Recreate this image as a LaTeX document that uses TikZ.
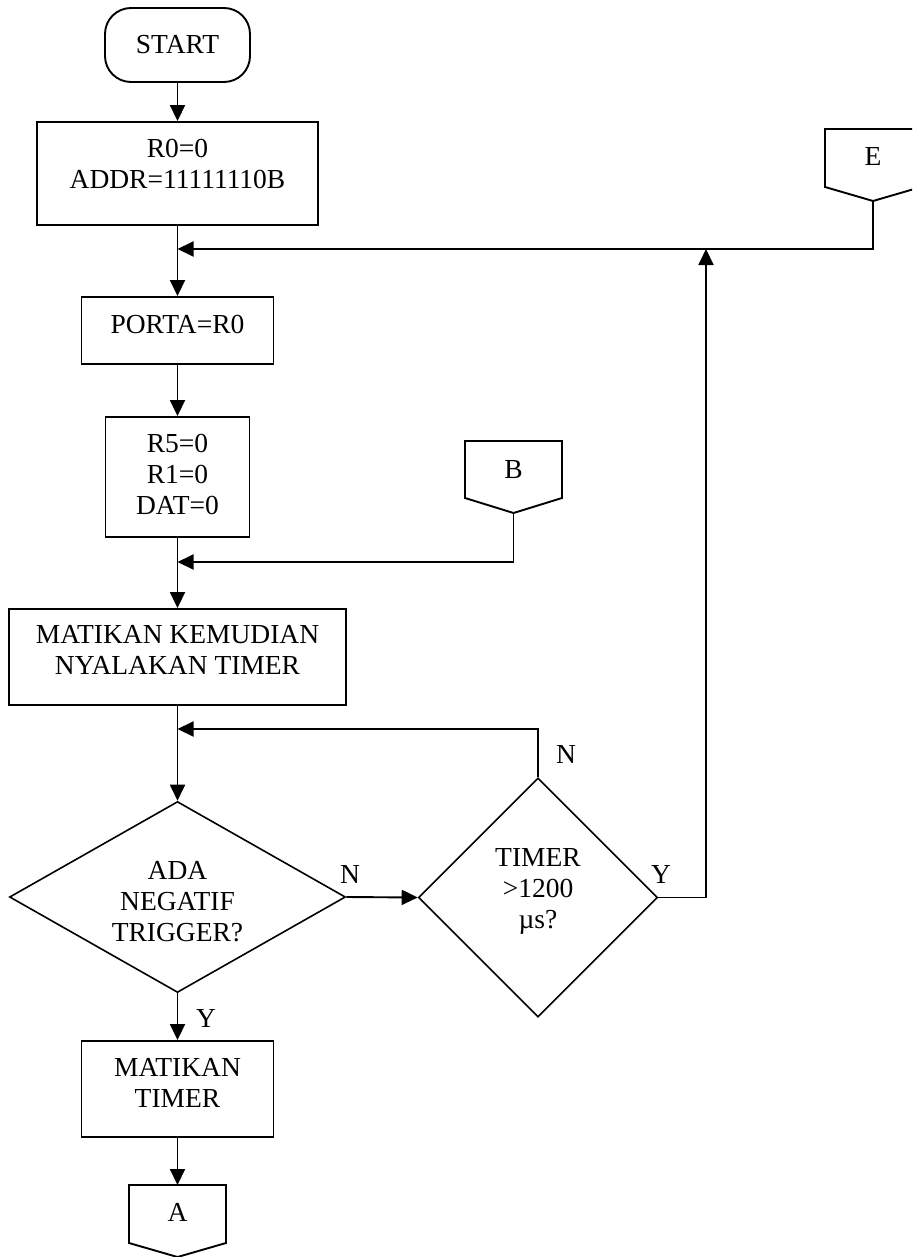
\documentclass[tikz,border=0pt]{standalone}
\usepackage{fontspec}
\setmainfont{Liberation Serif}
\usetikzlibrary{arrows.meta,shapes.geometric}
\begin{document}
\begin{tikzpicture}[x=1pt,y=-1pt,
  every node/.style={font=\fontsize{27.5}{31}\selectfont, align=center, inner sep=0pt},
  txt/.style={anchor=north},
  proc/.style={draw, rectangle, line width=1.9pt},
  term/.style={draw, rectangle, rounded corners=26pt, line width=1.9pt},
  dec/.style={draw, diamond, line width=1.6pt},
  conn/.style={draw, line width=1.9pt, line join=miter},
  wire/.style={line width=1.9pt},
  arr/.style={wire, -{Triangle[length=16pt,width=15pt]}},
]
\useasboundingbox (0,0) rectangle (912,1257);
\clip (0,0) rectangle (912,1257);

% process boxes
\node[term, minimum width=145pt, minimum height=74pt] (start) at (177.5,45) {START};
\node[proc, minimum width=281pt, minimum height=103pt] (init) at (177.5,173.5) {};
\node[txt] (initt) at (177.5,139) {R0=0\\ADDR=11111110B};
\node[proc, minimum width=192pt, minimum height=67pt] (porta) at (177.5,330.5) {};
\node[txt] (portat) at (177.5,315) {PORTA=R0};
\node[proc, minimum width=144pt, minimum height=120pt] (r5) at (177.5,477) {};
\node[txt] (r5t) at (177.5,434) {R5=0\\R1=0\\DAT=0};
\node[proc, minimum width=337pt, minimum height=96pt] (tstart) at (177.5,657) {};
\node[txt] (tstartt) at (177.5,625) {MATIKAN KEMUDIAN\\NYALAKAN TIMER};
\node[proc, minimum width=192pt, minimum height=96pt] (stop) at (177.5,1089) {};
\node[txt] (stopt) at (177.5,1058) {MATIKAN\\TIMER};

% decisions
\node[dec, minimum width=336pt, minimum height=191pt] (d1) at (177.5,897) {};
\node[txt] (d1t) at (177.5,861) {ADA\\NEGATIF\\TRIGGER?};
\node[dec, minimum width=239pt, minimum height=239pt] (d2) at (538,897.5) {};
\node[txt] (d2t) at (538,848.5) {TIMER\\>1200\\µs?};

% off-page connectors
\draw[conn] (825,129) -- (921,129) -- (921,187) -- (873,201) -- (825,187) -- cycle;
\coordinate (Ebot) at (873,201);
\node (E) at (873,156) {E};
\draw[conn] (465,441) -- (562,441) -- (562,498) -- (513.5,513) -- (465,498) -- cycle;
\coordinate (Bbot) at (513.5,513);
\node (B) at (513.5,470) {B};
\draw[conn] (129,1185) -- (226,1185) -- (226,1243) -- (177.5,1257) -- (129,1243) -- cycle;
\coordinate (Atop) at (177.5,1185);
\node (A) at (177.5,1212) {A};

% junctions
\coordinate (j1) at (177.5,249);
\coordinate (j2) at (177.5,562);
\coordinate (j3) at (177.5,729);
\coordinate (yup) at (706,249);

% connectors
\draw[arr] (start.south) -- (init.north);
\draw[arr] (init.south) -- (porta.north);
\draw[arr] (Ebot) |- (j1);
\draw[arr] (d2.east) -| (yup);
\draw[arr] (porta.south) -- (r5.north);
\draw[arr] (r5.south) -- (tstart.north);
\draw[arr] (Bbot) |- (j2);
\draw[arr] (tstart.south) -- (d1.north);
\draw[arr] (d2.north) |- (j3);
\draw[arr] (d1.east) -- (d2.west);
\draw[arr] (d1.south) -- (stop.north);
\draw[arr] (stop.south) -- (Atop);

% branch labels
\node (n1) at (350,874) {N};
\node (y1) at (661,874) {Y};
\node (n2) at (566,754) {N};
\node (y2) at (206,1018) {Y};
\end{tikzpicture}
\end{document}
